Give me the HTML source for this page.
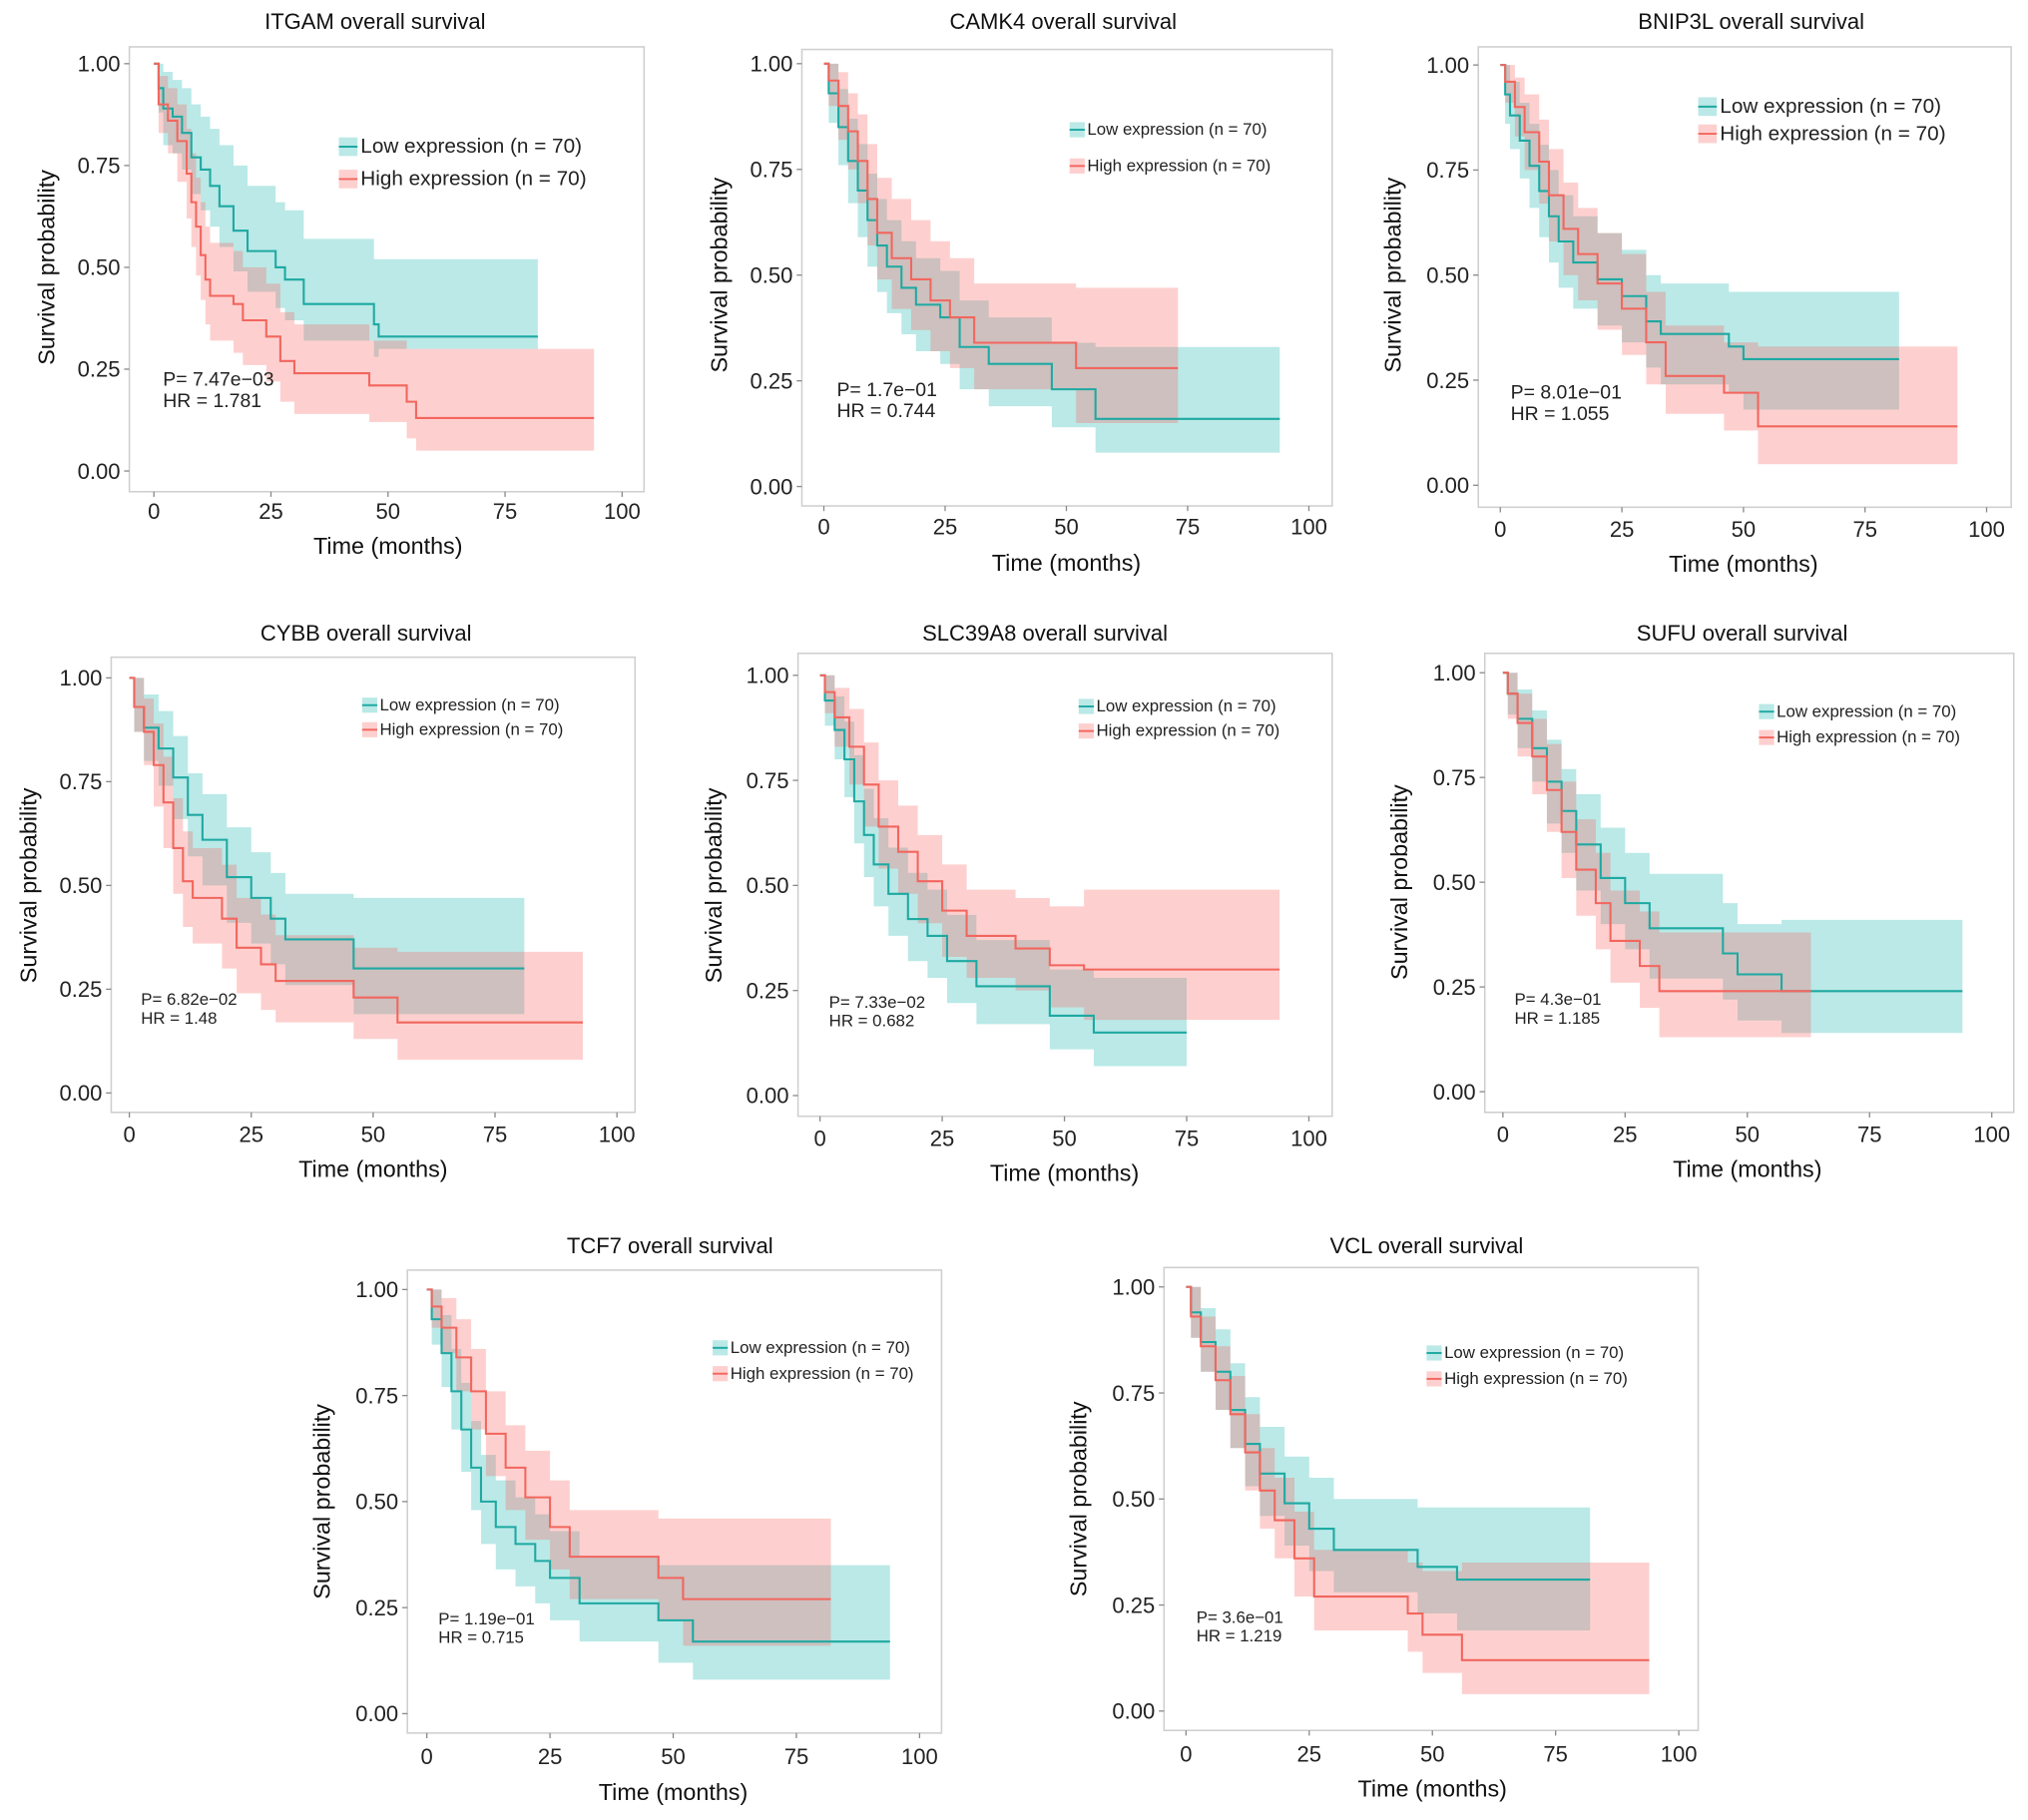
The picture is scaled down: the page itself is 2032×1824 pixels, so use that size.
<!DOCTYPE html>
<html><head><meta charset="utf-8"><style>
html,body{margin:0;padding:0;background:#fff;}
svg{display:block;font-family:"Liberation Sans",Arial,sans-serif;}
</style></head><body>
<svg id="fig" width="2032" height="1824" viewBox="0 0 1568 1407" xmlns="http://www.w3.org/2000/svg"></svg>
<script>
// ---- data (months, survival probability) ----
const panelTitles=["ITGAM overall survival","CAMK4 overall survival","BNIP3L overall survival","CYBB overall survival","SLC39A8 overall survival","SUFU overall survival","TCF7 overall survival","VCL overall survival"];
const pValues=["P= 7.47e\u221203","P= 1.7e\u221201","P= 8.01e\u221201","P= 6.82e\u221202","P= 7.33e\u221202","P= 4.3e\u221201","P= 1.19e\u221201","P= 3.6e\u221201"];
const hrValues=["HR = 1.781","HR = 0.744","HR = 1.055","HR = 1.48","HR = 0.682","HR = 1.185","HR = 0.715","HR = 1.219"];
const xTicks=[0,25,50,75,100];
const yTicks=[0,0.25,0.5,0.75,1];
const yTickLabels=["0.00","0.25","0.50","0.75","1.00"];
const lowT=[[0,1,2,4,6,8,10,12,14,17,20,26,28,32,47,48],[0,1,3,5,7,9,11,13,16,19,24,28,34,47,56],[0,1,2,4,6,8,10,12,15,20,25,30,33,47,50],[0,1,3,6,9,12,15,20,25,29,32,46],[0,1,3,5,7,9,11,14,18,22,26,32,47,56],[0,1,3,6,9,12,15,20,25,30,45,48,57],[0,1,3,5,7,9,11,14,18,22,25,31,47,54],[0,1,3,6,9,12,15,20,25,30,47,55]];
const lowS=[[1,.94,.89,.87,.83,.77,.74,.70,.65,.59,.54,.50,.47,.41,.36,.33],[1,.93,.85,.77,.70,.63,.57,.52,.47,.43,.40,.33,.29,.23,.16],[1,.93,.88,.82,.76,.70,.64,.58,.53,.49,.45,.39,.36,.33,.30],[1,.93,.88,.83,.76,.67,.61,.52,.47,.42,.37,.30],[1,.94,.87,.80,.70,.62,.55,.48,.42,.38,.32,.26,.19,.15],[1,.95,.89,.82,.74,.67,.59,.51,.45,.39,.33,.28,.24],[1,.93,.85,.76,.67,.58,.50,.44,.40,.36,.32,.26,.22,.17],[1,.94,.87,.80,.71,.63,.56,.49,.43,.38,.34,.31]];
const lowHi=[[1,1,.98,.96,.94,.90,.87,.84,.80,.75,.70,.66,.64,.57,.52,.52],[1,1,.94,.87,.81,.74,.68,.63,.58,.54,.51,.44,.40,.34,.33],[1,1,.96,.91,.86,.81,.75,.69,.64,.60,.56,.50,.48,.46,.46],[1,1,.96,.92,.86,.77,.72,.64,.58,.53,.48,.47],[1,1,.95,.89,.81,.73,.66,.59,.53,.49,.43,.37,.30,.28],[1,1,.96,.91,.84,.77,.71,.63,.57,.52,.45,.40,.41],[1,1,.94,.86,.78,.69,.61,.55,.51,.47,.43,.37,.35,.35],[1,1,.95,.90,.82,.74,.67,.60,.55,.50,.48,.48]];
const lowLo=[[1,.88,.80,.78,.74,.68,.64,.60,.55,.49,.44,.40,.37,.32,.28,.30],[1,.86,.76,.67,.59,.52,.46,.41,.36,.32,.29,.23,.19,.14,.08],[1,.86,.80,.73,.66,.59,.53,.47,.42,.38,.34,.28,.24,.22,.18],[1,.87,.80,.74,.66,.57,.50,.41,.36,.31,.26,.19],[1,.88,.80,.71,.60,.52,.45,.38,.32,.28,.22,.17,.11,.07],[1,.90,.82,.74,.64,.57,.48,.40,.34,.27,.22,.17,.14],[1,.87,.77,.67,.57,.48,.40,.34,.30,.26,.22,.17,.12,.08],[1,.88,.80,.71,.62,.53,.46,.39,.33,.28,.23,.19]];
const lowEnd=[82,94,82,81,75,94,94,82];
const highT=[[0,1,3,5,7,8,9,10,11,12,17,19,24,27,30,46,54,56],[0,1,3,5,7,9,11,14,18,22,26,31,52],[0,1,3,5,8,10,13,16,20,25,30,34,46,53],[0,1,3,5,7,9,11,13,19,22,27,30,46,55],[0,1,3,6,9,12,16,20,25,30,40,47,54],[0,1,3,6,9,12,15,19,22,28,32],[0,1,3,6,9,12,16,20,25,29,47,52],[0,1,3,6,9,12,15,18,22,26,45,48,56]];
const highS=[[1,.90,.86,.81,.73,.66,.60,.53,.47,.43,.41,.37,.33,.27,.24,.21,.17,.13],[1,.96,.90,.84,.77,.68,.60,.54,.49,.44,.40,.34,.28],[1,.96,.90,.84,.77,.69,.61,.55,.48,.42,.34,.26,.22,.14],[1,.93,.87,.79,.70,.59,.51,.47,.42,.35,.31,.27,.23,.17],[1,.96,.90,.83,.74,.64,.58,.51,.44,.38,.35,.31,.30],[1,.95,.88,.80,.72,.62,.53,.45,.36,.30,.24],[1,.96,.91,.84,.76,.66,.58,.51,.44,.37,.32,.27],[1,.93,.86,.78,.70,.61,.52,.45,.36,.27,.23,.18,.12]];
const highHi=[[1,.97,.94,.90,.84,.78,.72,.66,.60,.56,.54,.50,.46,.39,.36,.32,.30,.30],[1,1,.98,.93,.88,.81,.73,.68,.63,.58,.54,.48,.47],[1,1,.97,.93,.87,.80,.72,.66,.60,.55,.46,.38,.34,.33],[1,1,.95,.89,.81,.71,.63,.59,.55,.47,.43,.38,.35,.34],[1,1,.97,.92,.84,.75,.69,.62,.55,.49,.47,.45,.49],[1,1,.95,.89,.83,.74,.65,.57,.48,.43,.38],[1,1,.98,.93,.86,.76,.68,.62,.55,.48,.46,.46],[1,1,.93,.86,.79,.70,.62,.55,.47,.38,.35,.33,.35]];
const highLo=[[1,.83,.78,.71,.62,.55,.48,.42,.36,.32,.29,.26,.22,.17,.14,.12,.08,.05],[1,.90,.82,.75,.67,.57,.49,.42,.37,.32,.28,.23,.15],[1,.91,.83,.75,.67,.58,.50,.44,.37,.31,.24,.17,.13,.05],[1,.87,.79,.69,.59,.48,.40,.36,.30,.24,.20,.17,.13,.08],[1,.91,.83,.74,.64,.54,.48,.41,.33,.28,.25,.21,.18],[1,.89,.80,.71,.62,.51,.42,.34,.26,.20,.13],[1,.91,.85,.76,.67,.56,.48,.41,.34,.27,.22,.16],[1,.88,.80,.71,.62,.52,.43,.36,.27,.19,.14,.09,.04]];
const highEnd=[94,73,94,93,94,63,82,94];

// ---- layout (figure units) ----
const L=[
 {bx:100,by:36,bw:398,bh:344,y1:49,y0:364,x0:119,x100:481,tx:290,ty:22,xl:401,xt:428,yt:36,lgx:262,lgy:118,lgs:16,lgg:25,ax:126,ay:298,as:15},
 {bx:620,by:38,bw:410,bh:353,y1:49,y0:376,x0:637,x100:1012,tx:822,ty:22,xl:413,xt:441,yt:556,lgx:827,lgy:104,lgs:13,lgg:28,ax:647,ay:306,as:15},
 {bx:1143,by:36,bw:412,bh:356,y1:50,y0:375,x0:1160,x100:1536,tx:1354,ty:22,xl:415,xt:442,yt:1077,lgx:1313,lgy:87,lgs:16,lgg:21,ax:1168,ay:308,as:15},
 {bx:86,by:508,bw:405,bh:352,y1:524,y0:845,x0:100,x100:477,tx:283,ty:495,xl:883,xt:910,yt:22,lgx:280,lgy:549,lgs:13,lgg:19,ax:109,ay:777,as:13},
 {bx:617,by:505,bw:413,bh:358,y1:522,y0:847,x0:634,x100:1012,tx:808,ty:495,xl:886,xt:913,yt:552,lgx:834,lgy:550,lgs:13,lgg:19,ax:641,ay:779,as:13},
 {bx:1148,by:505,bw:409,bh:355,y1:520,y0:844,x0:1162,x100:1540,tx:1347,ty:495,xl:883,xt:910,yt:1082,lgx:1360,lgy:554,lgs:13,lgg:20,ax:1171,ay:777,as:13},
 {bx:315,by:982,bw:413,bh:358,y1:997,y0:1325,x0:330,x100:711,tx:518,ty:969,xl:1364,xt:1392,yt:249,lgx:551,lgy:1046,lgs:13,lgg:20,ax:339,ay:1256,as:13},
 {bx:900,by:980,bw:413,bh:358,y1:995,y0:1323,x0:917,x100:1298,tx:1103,ty:969,xl:1362,xt:1389,yt:834,lgx:1103,lgy:1050,lgs:13,lgg:20,ax:925,ay:1255,as:13}
];
const svg=document.getElementById('fig');
const NS='http://www.w3.org/2000/svg';
function mk(tag,attrs,parent){const e=document.createElementNS(NS,tag);for(const k in attrs)e.setAttribute(k,attrs[k]);(parent||svg).appendChild(e);return e;}
function txt(s,attrs,parent){const e=mk('text',attrs,parent);e.textContent=s;return e;}
const TEAL='#1ea9a2',RED='#f2665e',TEALF='rgba(0,175,168,0.27)',REDF='rgba(248,100,95,0.30)';

function stepPath(T,S,end,sx,sy){let d='M'+sx(T[0])+','+sy(S[0]);for(let i=1;i<T.length;i++){d+=' H'+sx(T[i])+' V'+sy(S[i]);}d+=' H'+sx(end);return d;}
function bandPath(T,H,Lo,end,sx,sy){let d='M'+sx(T[0])+','+sy(H[0]);for(let i=1;i<T.length;i++){d+=' H'+sx(T[i])+' V'+sy(H[i]);}d+=' H'+sx(end)+' V'+sy(Lo[Lo.length-1]);for(let i=T.length-1;i>=1;i--){d+=' H'+sx(T[i])+' V'+sy(Lo[i-1]);}d+=' H'+sx(T[0])+' Z';return d;}

L.forEach((p,i)=>{
  const g=mk('g',{});
  
  
  const sx=t=>p.x0+(p.x100-p.x0)*t/100;
  const sy=v=>p.y0+(p.y1-p.y0)*v;
  const box=mk('rect',{x:p.bx,y:p.by,width:p.bw,height:p.bh,fill:'#fff',stroke:'#cfcfcf','stroke-width':1.2},g);
  
  
  const t=txt(panelTitles[i],{x:p.tx,y:p.ty,'font-size':17,'text-anchor':'middle',fill:'#111'},g);
  
  
  // bands
  const bl=mk('path',{d:bandPath(lowT[i],lowHi[i],lowLo[i],lowEnd[i],sx,sy),fill:TEALF},g);
  
  
  const bh=mk('path',{d:bandPath(highT[i],highHi[i],highLo[i],highEnd[i],sx,sy),fill:REDF},g);
  
  
  const ll=mk('path',{d:stepPath(lowT[i],lowS[i],lowEnd[i],sx,sy),fill:'none',stroke:TEAL,'stroke-width':1.6},g);
  
  
  const lh=mk('path',{d:stepPath(highT[i],highS[i],highEnd[i],sx,sy),fill:'none',stroke:RED,'stroke-width':1.6},g);
  
  
  // ticks
  xTicks.forEach(v=>{
    mk('line',{x1:sx(v),x2:sx(v),y1:p.by+p.bh,y2:p.by+p.bh+4,stroke:'#888'},g);
    const tl=txt(String(v),{x:sx(v),y:p.xl,'font-size':17,'text-anchor':'middle',fill:'#222'},g);
    
    
  });
  yTicks.forEach((v,k)=>{
    mk('line',{x1:p.bx-4,x2:p.bx,y1:sy(v),y2:sy(v),stroke:'#888'},g);
    const tl=txt(yTickLabels[k],{x:p.bx-7,y:sy(v)+6,'font-size':17,'text-anchor':'end',fill:'#222'},g);
    
    
  });
  const xt=txt('Time (months)',{x:(p.x0+p.x100)/2,y:p.xt,'font-size':18,'text-anchor':'middle',fill:'#111'},g);
  
  
  const cy=(p.y0+p.y1)/2;
  const yt=txt('Survival probability',{x:p.yt+6,y:cy,'font-size':18,'text-anchor':'middle',fill:'#111',transform:'rotate(-90 '+(p.yt+6)+' '+cy+')'},g);
  
  
  // legend
  [['Low expression (n = 70)',TEAL,TEALF],['High expression (n = 70)',RED,REDF]].forEach((e,k)=>{
    const y=p.lgy+k*p.lgg;
    const lg=mk('g',{},g);
    
    
    mk('rect',{x:p.lgx,y:y-p.lgs*0.75,width:p.lgs*0.9,height:p.lgs*0.9,fill:e[2]},lg);
    mk('line',{x1:p.lgx,x2:p.lgx+p.lgs*0.9,y1:y-p.lgs*0.3,y2:y-p.lgs*0.3,stroke:e[1],'stroke-width':1.5},lg);
    txt(e[0],{x:p.lgx+p.lgs*1.05,y:y,'font-size':p.lgs,fill:'#222'},lg);
  });
  const pv=txt(pValues[i],{x:p.ax,y:p.ay,'font-size':p.as,fill:'#222'},g);
  
  
  const hr=txt(hrValues[i],{x:p.ax,y:p.ay+p.as*1.1,'font-size':p.as,fill:'#222'},g);
  
  
});
</script>
</body></html>
